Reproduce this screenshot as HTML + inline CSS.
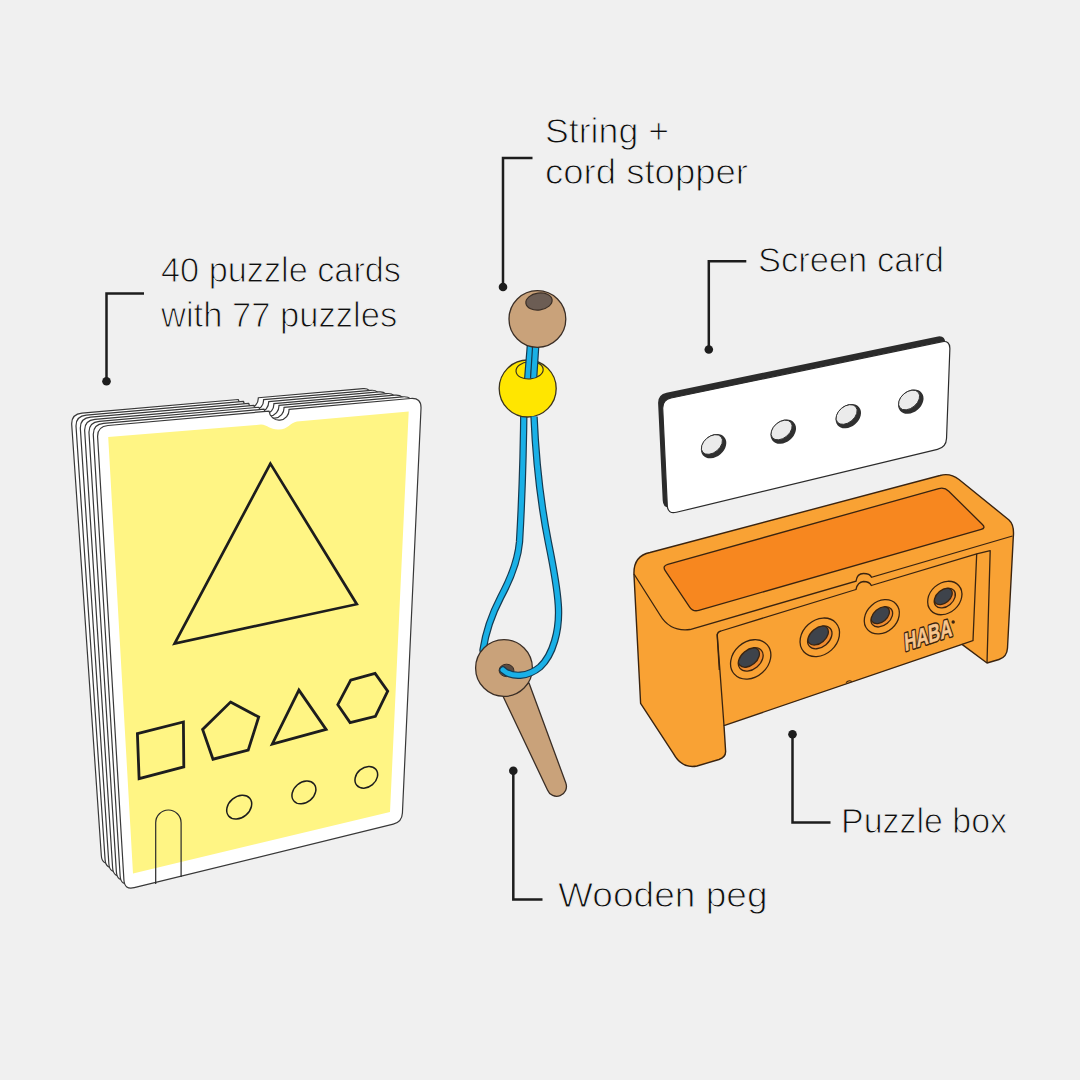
<!DOCTYPE html>
<html><head><meta charset="utf-8"><title>Puzzle kit contents</title>
<style>
html,body{margin:0;padding:0;background:#f0f0f0;width:1080px;height:1080px;overflow:hidden;}
svg{display:block;}
.t{stroke:#f0f0f0;stroke-width:1.0px;}
</style></head><body>
<svg width="1080" height="1080" viewBox="0 0 1080 1080">
<defs><clipPath id="bh"><rect x="480" y="330" width="100" height="40.3"/><ellipse cx="529.6" cy="370.3" rx="13" ry="8" transform="rotate(-5 529.6 370.3)"/></clipPath><clipPath id="yb"><rect x="0" y="416.6" width="1080" height="600"/></clipPath><clipPath id="hc0"><ellipse cx="750.7" cy="659.4" rx="14" ry="9.8" transform="rotate(-40 750.7 659.4)"/></clipPath><clipPath id="hc1"><ellipse cx="819.8" cy="637.3" rx="13.72" ry="9.6" transform="rotate(-40 819.8 637.3)"/></clipPath><clipPath id="hc2"><ellipse cx="881.8" cy="616.8" rx="12.18" ry="8.53" transform="rotate(-40 881.8 616.8)"/></clipPath><clipPath id="hc3"><ellipse cx="944.8" cy="598" rx="11.9" ry="8.33" transform="rotate(-40 944.8 598)"/></clipPath></defs>
<rect width="1080" height="1080" fill="#f0f0f0"/>
<path d="M71.75 424.97 Q71 414 81.96 413.05 L238.34 399.5 A10 10 0 0 0 258.26 397.77 L363.03 388.69 Q371 388 370.63 395.99 L352.41 791.01 Q352 800 343.29 802.28 L111.67 862.97 Q102 865.5 101.32 855.52 Z" fill="#fff" stroke="#383838" stroke-width="1.2" stroke-linejoin="round"/>
<path d="M76.07 427.06 Q75.33 416.08 86.29 415.13 L243.56 401.42 A10 10 0 0 0 263.49 399.69 L370.95 390.32 Q379.42 389.58 379.03 398.07 L360.75 794.68 Q360.33 803.67 351.62 805.92 L115.43 867.08 Q105.75 869.58 105.08 859.61 Z" fill="#fff" stroke="#383838" stroke-width="1.2" stroke-linejoin="round"/>
<path d="M80.39 429.14 Q79.67 418.17 90.62 417.21 L248.75 403.35 A10 10 0 0 0 268.67 401.61 L378.87 391.95 Q387.83 391.17 387.42 400.16 L369.08 798.34 Q368.67 807.33 359.95 809.56 L119.19 871.19 Q109.5 873.67 108.85 863.69 Z" fill="#fff" stroke="#383838" stroke-width="1.2" stroke-linejoin="round"/>
<path d="M84.7 431.23 Q84 420.25 94.96 419.28 L253.89 405.29 A10 10 0 0 0 273.82 403.53 L386.79 393.58 Q396.25 392.75 395.81 402.24 L377.41 802.01 Q377 811 368.28 813.21 L122.94 875.3 Q113.25 877.75 112.61 867.77 Z" fill="#fff" stroke="#383838" stroke-width="1.2" stroke-linejoin="round"/>
<path d="M89.02 433.31 Q88.33 422.33 99.29 421.36 L259 407.23 A10 10 0 0 0 278.92 405.46 L394.71 395.22 Q404.67 394.33 404.21 404.32 L385.75 805.68 Q385.33 814.67 376.6 816.85 L126.7 879.41 Q117 881.83 116.38 871.85 Z" fill="#fff" stroke="#383838" stroke-width="1.2" stroke-linejoin="round"/>
<path d="M93.33 435.4 Q92.67 424.42 103.62 423.44 L264.06 409.17 A10 10 0 0 0 283.98 407.4 L402.62 396.85 Q413.08 395.92 412.6 406.41 L394.08 809.34 Q393.67 818.33 384.93 820.5 L130.46 883.51 Q120.75 885.92 120.14 875.94 Z" fill="#fff" stroke="#383838" stroke-width="1.2" stroke-linejoin="round"/>
<path d="M97.65 437.48 Q97 426.5 107.96 425.52 L269.08 411.12 A10 10 0 0 0 289 409.34 L410.54 398.48 Q421.5 397.5 421 408.49 L402.41 813.01 Q402 822 393.26 824.14 L134.21 887.62 Q124.5 890 123.91 880.02 Z" fill="#fff" stroke="#383838" stroke-width="1.2" stroke-linejoin="round"/>
<path d="M108.2 437 L261 424.6 C268 425 270 430 279 429.6 C288 429.2 290 423 297 421.5 L408.7 411.5 L390 812 L133 873.5 Z" fill="#fff584"/>
<path d="M155.7 884 L155.7 822.7 A12.7 12.7 0 0 1 181.1 822.7 L181.1 877" fill="none" stroke="#2a2a2a" stroke-width="1.2"/>
<polygon points="270.4,463.6 174.6,643.5 356.8,604.2" fill="none" stroke="#1d1d1d" stroke-width="2.7" stroke-linejoin="miter"/>
<polygon points="137.4,733.6 183.4,722 183.8,766.9 139.1,778.6" fill="none" stroke="#1d1d1d" stroke-width="2.8" stroke-linejoin="miter"/>
<polygon points="230.5,702.1 258.7,717 248.2,750.1 213,759.2 202.6,729.4" fill="none" stroke="#1d1d1d" stroke-width="2.8" stroke-linejoin="miter"/>
<polygon points="298.9,690.1 272.3,744 326.1,729.4" fill="none" stroke="#1d1d1d" stroke-width="2.8" stroke-linejoin="miter"/>
<polygon points="350.7,680.1 375.1,673.4 387.7,691.1 375.4,716.4 350.1,722.6 337.8,704.7" fill="none" stroke="#1d1d1d" stroke-width="2.8" stroke-linejoin="miter"/>
<ellipse cx="239.2" cy="807.1" rx="13.8" ry="10.4" transform="rotate(-40 239.2 807.1)" fill="none" stroke="#1d1d1d" stroke-width="1.5"/>
<ellipse cx="303.9" cy="792.4" rx="13.2" ry="10" transform="rotate(-40 303.9 792.4)" fill="none" stroke="#1d1d1d" stroke-width="1.5"/>
<ellipse cx="366.3" cy="777.3" rx="12.4" ry="9.6" transform="rotate(-40 366.3 777.3)" fill="none" stroke="#1d1d1d" stroke-width="1.5"/>
<path d="M524 400 C523.5 450 522 500 519.5 542 C518 560 510 580 500.6 597.4 C493 612 486 630 483 650" fill="none" stroke="#163a50" stroke-width="7.4" stroke-linecap="round"/>
<path d="M524 400 C523.5 450 522 500 519.5 542 C518 560 510 580 500.6 597.4 C493 612 486 630 483 650" fill="none" stroke="#19b0e6" stroke-width="5.0" stroke-linecap="round"/>
<circle cx="527.7" cy="388.5" r="28.5" fill="#ffe600" stroke="#3a3320" stroke-width="1.3"/>
<ellipse cx="529.6" cy="370.3" rx="13.6" ry="8.6" transform="rotate(-5 529.6 370.3)" fill="#ffe600" stroke="#3a3320" stroke-width="1.2"/>
<g clip-path="url(#bh)">
<path d="M531.2 335 L527.2 385" fill="none" stroke="#163a50" stroke-width="7.4" stroke-linecap="round"/>
<path d="M531.2 335 L527.2 385" fill="none" stroke="#19b0e6" stroke-width="5.0" stroke-linecap="round"/>
<path d="M536.4 335 L533.2 385" fill="none" stroke="#163a50" stroke-width="7.4" stroke-linecap="round"/>
<path d="M536.4 335 L533.2 385" fill="none" stroke="#19b0e6" stroke-width="5.0" stroke-linecap="round"/>
</g>
<circle cx="537.4" cy="319" r="28.4" fill="#c9a27a" stroke="#3a2e26" stroke-width="1.3"/>
<ellipse cx="539" cy="301.5" rx="13.2" ry="8.4" transform="rotate(-8 539 301.5)" fill="#6c5d54" stroke="#3a2e26" stroke-width="1.2"/>
<path d="M501 692 L547.5 790 A9.6 9.6 0 0 0 565.8 783 L529 683 Z" fill="#c9a27a" stroke="#3a2e26" stroke-width="1.3" stroke-linejoin="round"/>
<circle cx="504" cy="668" r="28.4" fill="#c9a27a" stroke="#3a2e26" stroke-width="1.3"/>
<ellipse cx="506.5" cy="670.4" rx="7.4" ry="6.2" fill="#5c4b40" stroke="#3a2e26" stroke-width="1"/>
<g clip-path="url(#yb)">
<path d="M533.6 405 C535 450 540 500 548.4 542.4 C553 565 557 585 558.3 605 C560 630 553 655 540 667 C528 677 512 678 503 670" fill="none" stroke="#163a50" stroke-width="7.4" stroke-linecap="round"/>
<path d="M533.6 405 C535 450 540 500 548.4 542.4 C553 565 557 585 558.3 605 C560 630 553 655 540 667 C528 677 512 678 503 670" fill="none" stroke="#19b0e6" stroke-width="5.0" stroke-linecap="round"/>
</g>
<path d="M658.12 403.59 Q657.7 394.6 666.51 392.77 L936.79 336.63 Q945.6 334.8 945.26 343.79 L941.94 433.11 Q941.6 442.1 932.85 444.21 L671.85 507.09 Q663.1 509.2 662.68 500.21 Z" fill="#2b2b2b"/>
<path d="M662.72 408.79 Q662.3 399.8 671.11 397.97 L941.39 341.83 Q950.2 340 949.86 348.99 L946.54 438.31 Q946.2 447.3 937.45 449.41 L676.45 512.29 Q667.7 514.4 667.28 505.41 Z" fill="#fff" stroke="#2b2b2b" stroke-width="1.2"/>
<ellipse cx="713.6" cy="446.2" rx="14" ry="10.6" transform="rotate(-40 713.6 446.2)" fill="#2f2f2f"/>
<ellipse cx="711.9" cy="444.5" rx="12" ry="8" transform="rotate(-40 711.9 444.5)" fill="#ebebeb" stroke="#2f2f2f" stroke-width="0.9"/>
<ellipse cx="783.3" cy="431.7" rx="14" ry="10.6" transform="rotate(-40 783.3 431.7)" fill="#2f2f2f"/>
<ellipse cx="781.6" cy="430" rx="12" ry="8" transform="rotate(-40 781.6 430)" fill="#ebebeb" stroke="#2f2f2f" stroke-width="0.9"/>
<ellipse cx="848.3" cy="416.2" rx="14" ry="10.6" transform="rotate(-40 848.3 416.2)" fill="#2f2f2f"/>
<ellipse cx="846.6" cy="414.5" rx="12" ry="8" transform="rotate(-40 846.6 414.5)" fill="#ebebeb" stroke="#2f2f2f" stroke-width="0.9"/>
<ellipse cx="910.8" cy="401.7" rx="14" ry="10.6" transform="rotate(-40 910.8 401.7)" fill="#2f2f2f"/>
<ellipse cx="909.1" cy="400" rx="12" ry="8" transform="rotate(-40 909.1 400)" fill="#ebebeb" stroke="#2f2f2f" stroke-width="0.9"/>
<path d="M634 575 Q633 556 650 552.5 L940 475.5 Q950 472.5 959 479.5 L1009 520 Q1014.5 525 1013.3 537 L1007.5 648 Q1007 657 999 659.5 L987 663 L962 644.4 L724 725.6 L725.6 751 Q726 757 719 759.5 L697 766 Q682 769 673.3 753.3 L640.6 703.3 Z" fill="#f9a234" stroke="#3a2410" stroke-width="1.4" stroke-linejoin="round"/>
<path d="M665.35 570.98 Q662 566 667.78 564.38 L938.72 488.62 Q944.5 487 948.77 491.22 L982.44 524.49 Q986 528 981.19 529.38 L698.77 610.35 Q693 612 689.65 607.02 Z" fill="#f7871f" stroke="#3a2410" stroke-width="1.3"/>
<path d="M634 574 L660 615 Q670 632 690 629.5 L856 581.2 Q857 573.5 863.5 573.5 Q870 573.5 871.5 577.3 L1012.5 536" fill="none" stroke="#3a2410" stroke-width="1.3"/>
<path d="M719.3 670 L717.2 636 Q717 632 721 631 L856 589.5 Q857.5 582 863.5 581.5 Q869.5 581.5 871.3 585.5 L976.7 553.8 L990.2 550.6 L987 663" fill="none" stroke="#3a2410" stroke-width="1.3" stroke-linejoin="round"/>
<path d="M717.2 634 L724 725.6 M976.7 553.8 L973 640.6 L962 644.4" fill="none" stroke="#3a2410" stroke-width="1.3"/>
<path d="M846 682.6 Q849 679.5 852 681.6" fill="none" stroke="#3a2410" stroke-width="1.1"/>
<ellipse cx="750.7" cy="659.4" rx="22" ry="17.6" transform="rotate(-42 750.7 659.4)" fill="#f9a234" stroke="#3a2410" stroke-width="1.3"/>
<ellipse cx="750.7" cy="659.4" rx="14" ry="9.8" transform="rotate(-40 750.7 659.4)" fill="#f08c30"/>
<g clip-path="url(#hc0)"><ellipse cx="748.8" cy="657.3" rx="12.04" ry="8.23" transform="rotate(-40 748.8 657.3)" fill="#3e434b" stroke="#3a2410" stroke-width="1.3"/></g>
<ellipse cx="750.7" cy="659.4" rx="14" ry="9.8" transform="rotate(-40 750.7 659.4)" fill="none" stroke="#3a2410" stroke-width="1.3"/>
<ellipse cx="819.8" cy="637.3" rx="21.56" ry="17.25" transform="rotate(-42 819.8 637.3)" fill="#f9a234" stroke="#3a2410" stroke-width="1.3"/>
<ellipse cx="819.8" cy="637.3" rx="13.72" ry="9.6" transform="rotate(-40 819.8 637.3)" fill="#f08c30"/>
<g clip-path="url(#hc1)"><ellipse cx="817.94" cy="635.24" rx="11.8" ry="8.07" transform="rotate(-40 817.94 635.24)" fill="#3e434b" stroke="#3a2410" stroke-width="1.3"/></g>
<ellipse cx="819.8" cy="637.3" rx="13.72" ry="9.6" transform="rotate(-40 819.8 637.3)" fill="none" stroke="#3a2410" stroke-width="1.3"/>
<ellipse cx="881.8" cy="616.8" rx="19.14" ry="15.31" transform="rotate(-42 881.8 616.8)" fill="#f9a234" stroke="#3a2410" stroke-width="1.3"/>
<ellipse cx="881.8" cy="616.8" rx="12.18" ry="8.53" transform="rotate(-40 881.8 616.8)" fill="#f08c30"/>
<g clip-path="url(#hc2)"><ellipse cx="880.15" cy="614.97" rx="10.47" ry="7.16" transform="rotate(-40 880.15 614.97)" fill="#3e434b" stroke="#3a2410" stroke-width="1.3"/></g>
<ellipse cx="881.8" cy="616.8" rx="12.18" ry="8.53" transform="rotate(-40 881.8 616.8)" fill="none" stroke="#3a2410" stroke-width="1.3"/>
<ellipse cx="944.8" cy="598" rx="18.7" ry="14.96" transform="rotate(-42 944.8 598)" fill="#f9a234" stroke="#3a2410" stroke-width="1.3"/>
<ellipse cx="944.8" cy="598" rx="11.9" ry="8.33" transform="rotate(-40 944.8 598)" fill="#f08c30"/>
<g clip-path="url(#hc3)"><ellipse cx="943.18" cy="596.22" rx="10.23" ry="7" transform="rotate(-40 943.18 596.22)" fill="#3e434b" stroke="#3a2410" stroke-width="1.3"/></g>
<ellipse cx="944.8" cy="598" rx="11.9" ry="8.33" transform="rotate(-40 944.8 598)" fill="none" stroke="#3a2410" stroke-width="1.3"/>
<text x="0" y="0" transform="translate(905 651) rotate(-18) skewX(-14)" font-family="Liberation Sans, sans-serif" font-weight="bold" font-size="24" textLength="50" lengthAdjust="spacingAndGlyphs" fill="#3a2410" stroke="#3a2410" stroke-width="3.4" stroke-linejoin="round">HABA</text>
<text x="0" y="0" transform="translate(905 651) rotate(-18) skewX(-14)" font-family="Liberation Sans, sans-serif" font-weight="bold" font-size="24" textLength="50" lengthAdjust="spacingAndGlyphs" fill="#f8c68e" stroke="#f8c68e" stroke-width="0.5" stroke-linejoin="round">HABA</text>
<circle cx="953.2" cy="622" r="1.7" fill="#3a2410"/>
<path d="M144 293.4 L106.5 293.4 L106.5 381" fill="none" stroke="#1d1d1d" stroke-width="2.5" stroke-linejoin="miter" stroke-linecap="butt"/>
<circle cx="106.5" cy="381.3" r="4.3" fill="#1d1d1d"/>
<path d="M532.5 158 L503 158 L503 287" fill="none" stroke="#1d1d1d" stroke-width="2.5" stroke-linejoin="miter" stroke-linecap="butt"/>
<circle cx="503" cy="287" r="4.3" fill="#1d1d1d"/>
<path d="M746.3 261.3 L708.8 261.3 L708.8 349.5" fill="none" stroke="#1d1d1d" stroke-width="2.5" stroke-linejoin="miter" stroke-linecap="butt"/>
<circle cx="708.8" cy="349.5" r="4.3" fill="#1d1d1d"/>
<path d="M792.5 734 L792.5 822.5 L830.5 822.5" fill="none" stroke="#1d1d1d" stroke-width="2.5" stroke-linejoin="miter" stroke-linecap="butt"/>
<circle cx="792.5" cy="734.3" r="4.3" fill="#1d1d1d"/>
<path d="M513.3 770.8 L513.3 899.5 L542.5 899.5" fill="none" stroke="#1d1d1d" stroke-width="2.5" stroke-linejoin="miter" stroke-linecap="butt"/>
<circle cx="513.3" cy="770.8" r="4.3" fill="#1d1d1d"/>
<text x="161.0" y="282.20" font-family="Liberation Sans, sans-serif" font-size="34.5" fill="#0e0e0e" textLength="240.0" lengthAdjust="spacingAndGlyphs" class="t">40 puzzle cards</text>
<text x="161.0" y="326.70" font-family="Liberation Sans, sans-serif" font-size="34.5" fill="#0e0e0e" textLength="236.2" lengthAdjust="spacingAndGlyphs" class="t">with 77 puzzles</text>
<text x="545.0" y="143.20" font-family="Liberation Sans, sans-serif" font-size="34.5" fill="#0e0e0e" textLength="124.0" lengthAdjust="spacingAndGlyphs" class="t">String +</text>
<text x="545.0" y="184.45" font-family="Liberation Sans, sans-serif" font-size="34.5" fill="#0e0e0e" textLength="203.0" lengthAdjust="spacingAndGlyphs" class="t">cord stopper</text>
<text x="758.0" y="272.00" font-family="Liberation Sans, sans-serif" font-size="34.5" fill="#0e0e0e" textLength="186.0" lengthAdjust="spacingAndGlyphs" class="t">Screen card</text>
<text x="841.0" y="832.70" font-family="Liberation Sans, sans-serif" font-size="34.5" fill="#0e0e0e" textLength="166.0" lengthAdjust="spacingAndGlyphs" class="t">Puzzle box</text>
<text x="558.0" y="907.00" font-family="Liberation Sans, sans-serif" font-size="34.5" fill="#0e0e0e" textLength="209.55" lengthAdjust="spacingAndGlyphs" class="t">Wooden peg</text>
</svg>
</body></html>
